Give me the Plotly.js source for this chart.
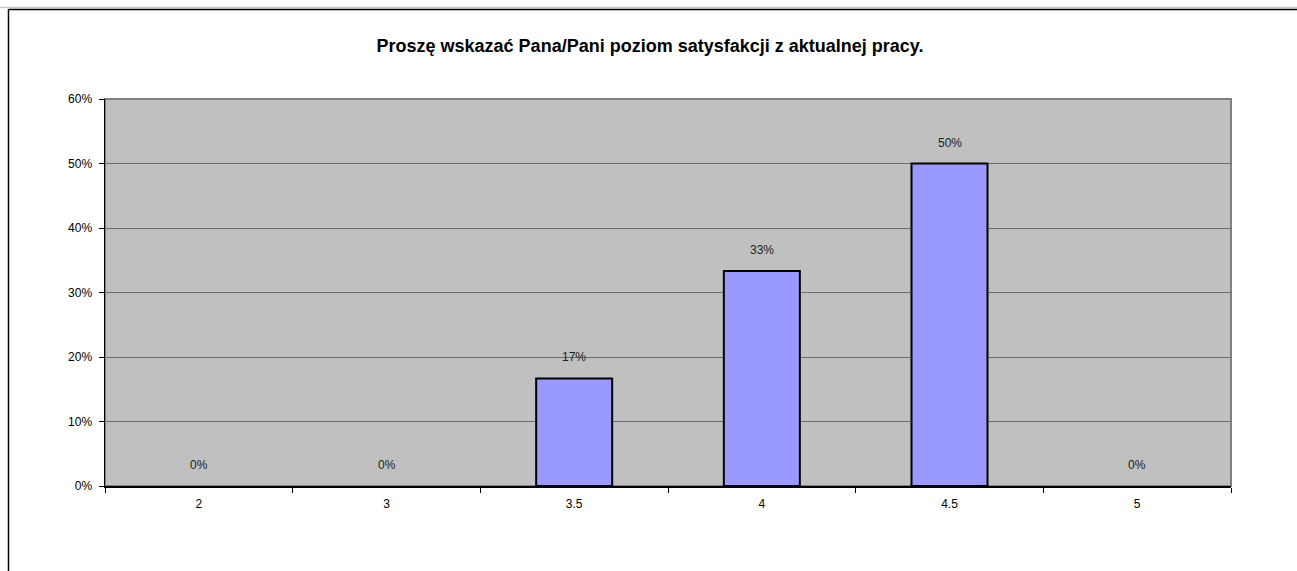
<!DOCTYPE html>
<html>
<head>
<meta charset="utf-8">
<script src="https://cdn.plot.ly/plotly-3.0.1.min.js"></script>
<style>html,body{margin:0;padding:0;background:#fff;}#chart{width:1297px;height:571px;}</style>
</head>
<body>
<div id="chart"></div>
<script>
var categories = ['2', '3', '3.5', '4', '4.5', '5'];
var shares = [0, 0, 0.1667, 0.3333, 0.5, 0];
var shareLabels = ['0%', '0%', '17%', '33%', '50%', '0%'];
var titleText = 'Proszę wskazać Pana/Pani poziom satysfakcji z aktualnej pracy.';

var L = 105, R = 1231, T = 99, B = 486, W = 1297, H = 571;
var pw = R - L, ph = B - T;
function px(x) { return (x - L) / pw; }
function py(y) { return (B - y) / ph; }

var fontFam = 'Liberation Sans, Arial, sans-serif';

var trace = {
  type: 'bar',
  x: categories,
  y: shares,
  marker: {
    color: '#9999FF',
    line: { color: '#000000', width: shares.map(function (v) { return v > 0 ? 2 : 0; }) }
  },
  hoverinfo: 'skip'
};

var annotations = categories.map(function (c, i) {
  return {
    x: i, y: shares[i], xref: 'x', yref: 'y',
    text: shareLabels[i], showarrow: false,
    yanchor: 'bottom', yshift: 12,
    font: { family: fontFam, size: 12, color: '#222' }
  };
});

var shapes = [
  { type: 'rect', xref: 'paper', yref: 'paper', x0: 0, x1: 1, y0: 0, y1: 1,
    line: { color: '#808080', width: 2 }, layer: 'below' },
  { type: 'line', xref: 'paper', yref: 'paper', x0: px(0), x1: px(W), y0: py(7.5), y1: py(7.5),
    line: { color: '#c8c8c8', width: 1.5 } },
  { type: 'line', xref: 'paper', yref: 'paper', x0: px(8.5), x1: px(W + 5), y0: py(9.5), y1: py(9.5),
    line: { color: '#000000', width: 1.5 } },
  { type: 'line', xref: 'paper', yref: 'paper', x0: px(8.5), x1: px(8.5), y0: py(9.5), y1: py(H + 5),
    line: { color: '#000000', width: 1.5 } }
];

var layout = {
  width: W, height: H,
  margin: { l: L, r: W - R, t: T, b: H - B, pad: 0 },
  paper_bgcolor: '#ffffff',
  plot_bgcolor: '#C0C0C0',
  bargap: 0.595,
  showlegend: false,
  title: {
    text: '<b>' + titleText + '</b>',
    font: { family: fontFam, size: 18, color: '#000' },
    xref: 'container', yref: 'container',
    x: 650 / W, xanchor: 'center',
    y: 1 - 46 / H, yanchor: 'middle'
  },
  xaxis: {
    type: 'category',
    showgrid: false,
    showline: true, linecolor: '#000', linewidth: 1.5,
    ticks: 'outside', ticklen: 5, tickcolor: '#000', tickwidth: 1,
    tickson: 'boundaries',
    ticklabelstandoff: 6,
    tickfont: { family: fontFam, size: 12, color: '#000' },
    zeroline: false, fixedrange: true
  },
  yaxis: {
    range: [0, 0.6],
    dtick: 0.1, tick0: 0,
    tickformat: '.0%',
    showgrid: true, gridcolor: '#6e6e6e', gridwidth: 1,
    showline: true, linecolor: '#000', linewidth: 1.5,
    ticks: 'outside', ticklen: 5, tickcolor: '#000', tickwidth: 1,
    ticklabelstandoff: 4,
    tickfont: { family: fontFam, size: 12, color: '#000' },
    zeroline: false, fixedrange: true
  },
  annotations: annotations,
  shapes: shapes
};

Plotly.newPlot('chart', [trace], layout, { displayModeBar: false, staticPlot: true });
</script>
</body>
</html>
